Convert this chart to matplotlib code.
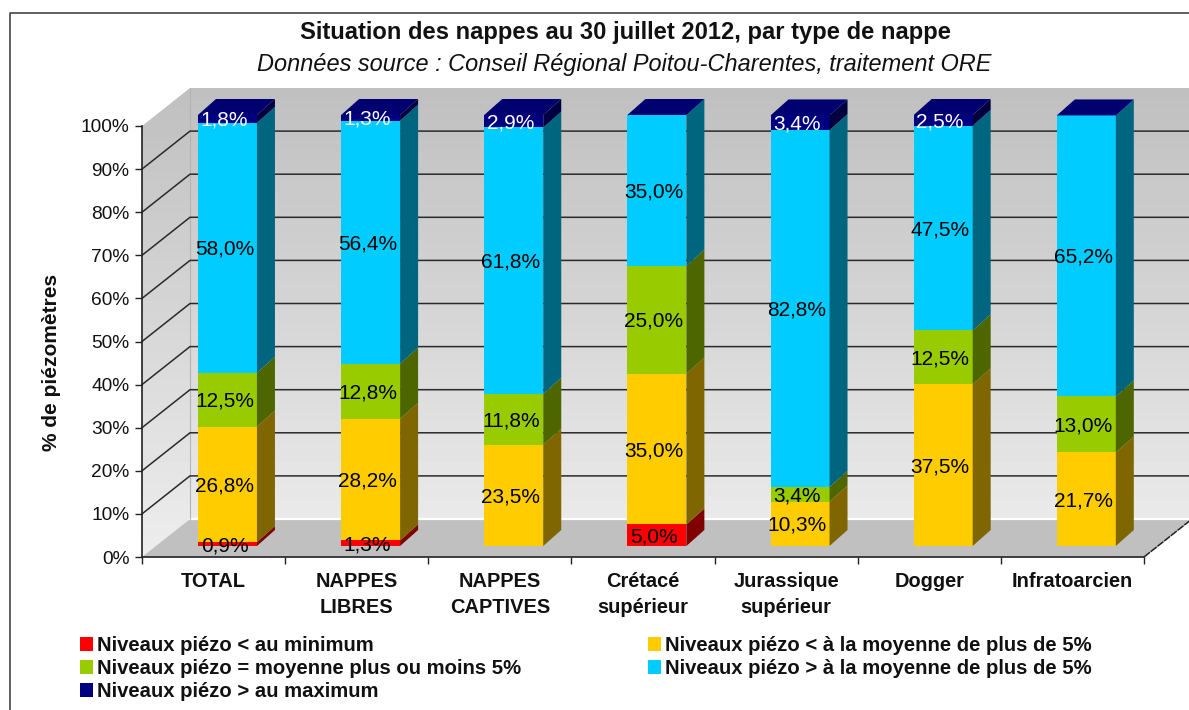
import numpy as np
import matplotlib
matplotlib.use("Agg")
import matplotlib.pyplot as plt
from matplotlib.lines import Line2D
from matplotlib.patches import Polygon

W, H = 1189, 710
categories = ["TOTAL", "NAPPES\nLIBRES", "NAPPES\nCAPTIVES", "Crétacé\nsupérieur",
              "Jurassique\nsupérieur", "Dogger", "Infratoarcien"]
below_min = [0.9, 1.3, 0, 5.0, 0, 0, 0]
below_avg = [26.8, 28.2, 23.5, 35.0, 10.3, 37.5, 21.7]
near_avg = [12.5, 12.8, 11.8, 25.0, 3.4, 12.5, 13.0]
above_avg = [58.0, 56.4, 61.8, 35.0, 82.8, 47.5, 65.2]
above_max = [1.8, 1.3, 2.9, 0, 3.4, 2.5, 0]
series = [below_min, below_avg, near_avg, above_avg, above_max]
names = ["Niveaux piézo < au minimum", "Niveaux piézo < à la moyenne de plus de 5%",
         "Niveaux piézo = moyenne plus ou moins 5%", "Niveaux piézo > à la moyenne de plus de 5%",
         "Niveaux piézo > au maximum"]
front_cols = ["#FF0000", "#FFCC00", "#99CC00", "#00CCFF", "#000080"]
side_cols = ["#800000", "#806600", "#4D6600", "#006680", "#000040"]
label_cols = ["black", "black", "black", "black", "white"]
yticks = list(range(0, 101, 10))

plt.rcParams["font.family"] = ["Liberation Sans", "DejaVu Sans"]
fig = plt.figure(figsize=(W / 100, H / 100), dpi=100, facecolor="white")

# plot frame in pixels
L, R, T, B = 142, 1144, 126, 557
ax = fig.add_axes([L / W, 1 - B / H, (R - L) / W, (B - T) / H])
ax.patch.set_visible(False)
px = 7 / (R - L)
py = 100 / (B - T)

# 3D shell
DX, DY = 48 * px, 38 * py
wall = [(0, 0), (DX, DY), (7 + DX, DY), (7 + DX, 100 + DY), (DX, 100 + DY), (0, 100)]
grad = np.linspace(0.93, 0.75, 128).reshape(-1, 1)
im = ax.imshow(grad, cmap="gray", vmin=0, vmax=1, aspect="auto", origin="lower",
               extent=(0, 7 + DX, 0, 100 + DY), zorder=0)
clip = Polygon(wall, transform=ax.transData, fc="none", ec="none")
ax.add_patch(clip)
im.set_clip_box(fig.bbox)
im.set_clip_path(clip)
ax.set_xlim(0, 7)
ax.set_ylim(0, 100)
ax.fill([0, 7, 7 + DX, DX], [0, 0, DY, DY], color="#C0C0C0", lw=0, zorder=1, clip_on=False)
ax.plot([DX, 7 + DX], [DY, DY], color="white", lw=1.6, zorder=1, clip_on=False)
ax.plot([DX, DX], [DY, 100 + DY], color="#B4B4B4", lw=0.8, zorder=1, clip_on=False)
for v in yticks[1:-1]:
    ax.plot([0, DX, 7 + DX], [v, v + DY, v + DY], color="#2A2A2A", lw=1.1, zorder=2, clip_on=False)
ax.plot([7, 7 + DX], [0, DY], color="#222222", lw=1.1, ls=(0, (5, 0.6)), zorder=2, clip_on=False)

# bars
bw = 59 * px
bx = 0.5 + 0.097
by = 11 * py
ddx, ddy = 18 * px, 16 * py
handles = []
for i in range(len(categories)):
    base = by
    xc = i + bx
    xl, xr = xc - bw / 2, xc + bw / 2
    for s, vals in enumerate(series):
        v = vals[i]
        b = ax.bar(xc, v, bw, bottom=base, color=front_cols[s], lw=0, zorder=3 + i, clip_on=False)
        if i == 0:
            handles.append(b[0])
        if v > 0:
            ax.fill([xr, xr + ddx, xr + ddx, xr], [base, base + ddy, base + v + ddy, base + v],
                    color=side_cols[s], lw=0, zorder=3 + i, clip_on=False)
        base += v
    ax.fill([xl, xr, xr + ddx, xl + ddx], [base, base, base + ddy, base + ddy],
            color="#000070", lw=0, zorder=3 + i, clip_on=False)
    base = by
    for s, vals in enumerate(series):
        v = vals[i]
        if v > 0:
            ax.text(xc - 3 * px, base + v / 2 - 1.5 * py, f"{v:.1f}%".replace(".", ","), ha="center",
                    va="center", fontsize=15, color=label_cols[s], zorder=30, clip_on=False)
        base += v

# axes
for sp in ("top", "right"):
    ax.spines[sp].set_visible(False)
for sp in ("left", "bottom"):
    ax.spines[sp].set_color("#222222")
    ax.spines[sp].set_linewidth(1.2)
    ax.spines[sp].set_zorder(40)
ax.set_yticks(yticks, [f"{v}%" for v in yticks], fontsize=13.8)
ax.tick_params(axis="y", length=5, width=1, pad=4, color="#222222", labelcolor="#111111")
ax.set_xticks(range(8), [""] * 8)
ax.tick_params(axis="x", which="major", length=5, width=1, color="#222222")
ax.set_xticks(np.arange(7) + 0.5, categories, minor=True, fontsize=14.4, fontweight="bold",
              linespacing=1.46)
ax.tick_params(axis="x", which="minor", length=0, pad=11, labelcolor="#111111")
ax.set_ylabel("% de piézomètres", fontsize=15, fontweight="bold", color="#111111", va="center")
ax.yaxis.set_label_coords((52 - L) / (R - L), 0.452)

# title
fig.text(626 / W, 1 - 32 / H, "Situation des nappes au 30 juillet 2012, par type de nappe",
         ha="center", va="center", fontsize=17.1, fontweight="bold", color="#111111")
fig.text(624 / W, 1 - 64 / H, "Données source : Conseil Régional Poitou-Charentes, traitement ORE",
         ha="center", va="center", fontsize=16.9, style="italic", color="#111111")

# legend: column-first order reproduces the two-column layout
order = [0, 2, 4, 1, 3]
fig.legend([handles[k] for k in order], [names[k] for k in order], ncol=2, frameon=False,
           loc="upper left", bbox_to_anchor=(80 / W, 1 - 636 / H), borderaxespad=0, borderpad=0,
           prop={"size": 14.6, "weight": "bold"}, handlelength=0.64, handleheight=0.7,
           handletextpad=0.2, labelspacing=0.2, columnspacing=6.25, labelcolor="#111111")

# outer frame
fig.add_artist(Line2D([10 / W, 10 / W, 1], [0, 1 - 13 / H, 1 - 13 / H],
                      transform=fig.transFigure, color="#444444", lw=1.2))
fig.savefig("out.png", dpi=100)
